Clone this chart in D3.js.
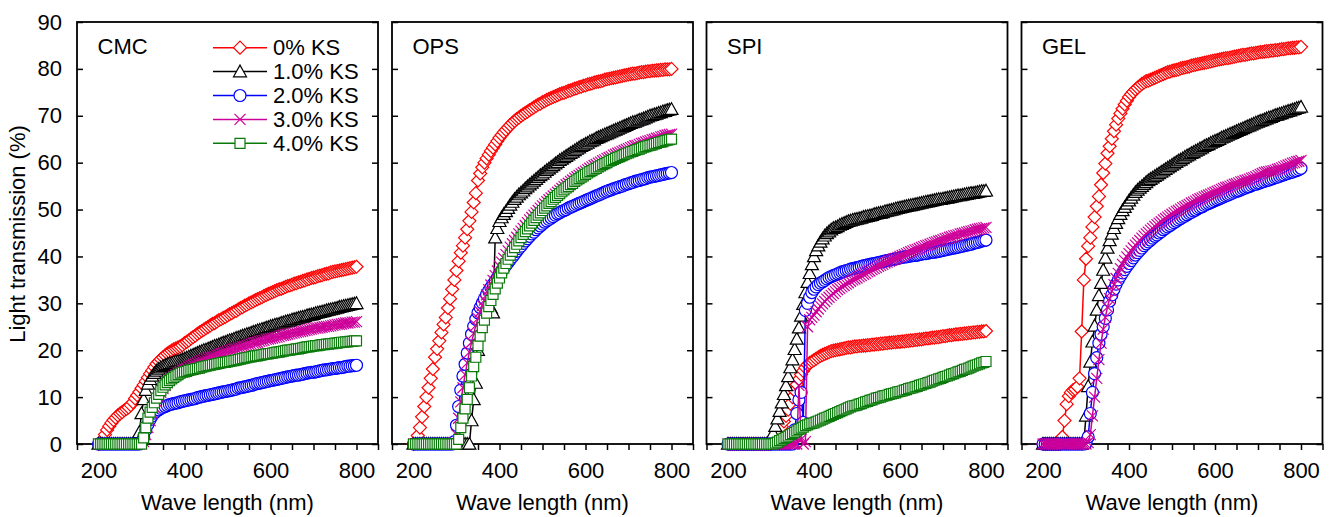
<!DOCTYPE html>
<html>
<head>
<meta charset="utf-8">
<script src="https://cdn.jsdelivr.net/npm/d3@7"></script>
<style>
body { margin: 0; background: #fff; }
text { font-family: "Liberation Sans", Arial, sans-serif; }
</style>
</head>
<body>
<svg id="chart" width="1331" height="517"></svg>
<script>
// wavelength (nm), every 5 nm
var wavelength = [
  200,205,210,215,220,225,230,235,240,245,
  250,255,260,265,270,275,280,285,290,295,
  300,305,310,315,320,325,330,335,340,345,
  350,355,360,365,370,375,380,385,390,395,
  400,405,410,415,420,425,430,435,440,445,
  450,455,460,465,470,475,480,485,490,495,
  500,505,510,515,520,525,530,535,540,545,
  550,555,560,565,570,575,580,585,590,595,
  600,605,610,615,620,625,630,635,640,645,
  650,655,660,665,670,675,680,685,690,695,
  700,705,710,715,720,725,730,735,740,745,
  750,755,760,765,770,775,780,785,790,795,
  800];

// ---- CMC ----
var cmc0 = [
  0,0.2,1,2,3,3.8,4.5,5.1,5.6,6.1,
  6.5,6.8,7.2,7.5,7.8,8.3,8.9,9.7,10.4,11.1,
  11.9,12.6,13.4,14.2,15,15.7,16.4,17.1,17.6,18.1,
  18.5,18.9,19.3,19.6,19.9,20.2,20.4,20.6,20.8,21.1,
  21.5,21.8,22.1,22.5,22.8,23.1,23.5,23.8,24.1,24.4,
  24.7,25,25.3,25.6,25.8,26.1,26.4,26.6,26.9,27.1,
  27.4,27.7,27.9,28.2,28.4,28.7,29,29.2,29.5,29.7,
  30,30.2,30.4,30.7,30.9,31.1,31.3,31.6,31.8,32,
  32.2,32.4,32.6,32.8,33,33.1,33.3,33.5,33.7,33.8,
  34,34.2,34.3,34.5,34.6,34.8,34.9,35.1,35.2,35.4,
  35.5,35.6,35.8,35.9,36,36.2,36.3,36.4,36.6,36.7,
  36.8,36.9,37,37.1,37.2,37.3,37.4,37.5,37.6,37.7,
  37.8];
var cmc1 = [
  0,0,0,0,0,0,0,0,0,0,
  0,0,0,0,0,0,0,0,0.2,2.5,
  6.5,9.5,11.5,12.8,13.8,14.5,15.1,15.6,16,16.3,
  16.6,16.8,17,17.2,17.3,17.5,17.6,17.7,17.8,18,
  18.2,18.4,18.6,18.8,19,19.2,19.4,19.6,19.8,20,
  20.1,20.3,20.5,20.7,20.9,21,21.2,21.4,21.6,21.7,
  21.9,22.1,22.2,22.4,22.6,22.7,22.9,23.1,23.2,23.4,
  23.5,23.7,23.9,24,24.2,24.3,24.5,24.6,24.8,24.9,
  25.1,25.2,25.4,25.5,25.6,25.8,25.9,26.1,26.2,26.3,
  26.5,26.6,26.7,26.9,27,27.1,27.2,27.4,27.5,27.6,
  27.7,27.9,28,28.1,28.2,28.3,28.5,28.6,28.7,28.8,
  28.9,29,29.2,29.3,29.4,29.5,29.6,29.7,29.8,29.9,
  30];
var cmc2 = [
  0,0,0,0,0,0,0,0,0,0,
  0,0,0,0,0,0,0,0,0,0,
  0.5,1.5,3,4.2,5.2,6,6.6,7,7.3,7.6,
  7.8,8,8.2,8.4,8.5,8.6,8.7,8.8,9,9.1,
  9.2,9.3,9.4,9.5,9.6,9.7,9.9,10,10.1,10.2,
  10.3,10.4,10.5,10.6,10.7,10.8,10.9,11,11.1,11.2,
  11.3,11.4,11.5,11.6,11.7,11.9,12,12.1,12.2,12.3,
  12.4,12.5,12.6,12.8,12.9,13,13.1,13.2,13.3,13.4,
  13.5,13.6,13.7,13.8,13.9,14,14.1,14.2,14.3,14.4,
  14.5,14.6,14.7,14.7,14.8,14.9,15,15.1,15.2,15.3,
  15.3,15.4,15.5,15.6,15.7,15.8,15.8,15.9,16,16.1,
  16.1,16.2,16.3,16.3,16.4,16.5,16.6,16.6,16.7,16.7,
  16.8];
var cmc3 = [
  0,0,0,0,0,0,0,0,0,0,
  0,0,0,0,0,0,0,0,0,0,
  0,0.5,2,3.5,5,6.5,7.8,9,10,11,
  11.8,12.5,13.1,13.6,14,14.4,14.8,15.1,15.5,15.8,
  16,16.2,16.5,16.7,16.9,17.1,17.3,17.5,17.7,17.9,
  18.1,18.3,18.5,18.6,18.8,19,19.1,19.3,19.4,19.6,
  19.7,19.9,20,20.2,20.3,20.5,20.6,20.8,20.9,21.1,
  21.2,21.3,21.5,21.6,21.7,21.9,22,22.1,22.3,22.4,
  22.5,22.6,22.7,22.8,22.9,23.1,23.2,23.3,23.4,23.5,
  23.6,23.7,23.8,23.9,24,24.1,24.2,24.3,24.4,24.5,
  24.6,24.7,24.7,24.8,24.9,25,25.1,25.1,25.2,25.3,
  25.4,25.5,25.5,25.6,25.7,25.8,25.8,25.9,26,26,
  26.1];
var cmc4 = [
  0,0,0,0,0,0,0,0,0,0,
  0,0,0,0,0,0,0,0,0,0,
  0,1.3,3.5,5.5,6.8,7.8,8.8,9.8,10.6,11.4,
  12.1,12.6,13.1,13.5,13.9,14.2,14.5,14.8,15.1,15.3,
  15.4,15.5,15.7,15.8,15.9,16,16.1,16.2,16.4,16.5,
  16.6,16.7,16.8,16.9,17,17.1,17.2,17.3,17.4,17.4,
  17.5,17.6,17.7,17.8,17.9,18,18.1,18.2,18.3,18.4,
  18.5,18.6,18.7,18.8,18.8,18.9,19,19.1,19.2,19.2,
  19.3,19.4,19.5,19.6,19.6,19.7,19.8,19.9,20,20,
  20.1,20.2,20.3,20.3,20.4,20.5,20.6,20.7,20.7,20.8,
  20.9,21,21,21.1,21.2,21.2,21.3,21.3,21.4,21.4,
  21.5,21.5,21.6,21.7,21.7,21.8,21.8,21.9,21.9,22,
  22];

// ---- OPS ----
var ops0 = [
  0,0.6,1.8,3.5,5.8,8,10,12,14,16,
  18.5,20.3,22,23.8,25.5,27,29,31,33,35,
  37,39,40.8,42.3,44,45.8,47.6,49.5,51.5,53.5,
  56.2,57.7,59,60,60.9,61.7,62.5,63.2,63.9,64.6,
  65.3,65.9,66.5,67,67.5,68,68.5,68.9,69.3,69.6,
  70,70.3,70.6,70.9,71.2,71.5,71.8,72.1,72.4,72.6,
  72.9,73.1,73.4,73.6,73.8,74,74.2,74.4,74.6,74.8,
  74.9,75.1,75.3,75.4,75.6,75.8,75.9,76.1,76.2,76.4,
  76.5,76.7,76.8,76.9,77.1,77.2,77.3,77.4,77.5,77.7,
  77.8,77.9,78,78.1,78.2,78.3,78.4,78.5,78.6,78.7,
  78.8,78.9,79,79,79.1,79.2,79.3,79.3,79.4,79.5,
  79.5,79.6,79.6,79.7,79.7,79.8,79.8,79.9,79.9,79.9,
  80];
var ops1 = [
  0,0,0,0,0,0,0,0,0,0,
  0,0,0,0,0,0,0,0,0,0,
  0,0,0,0,0,0,0,5,9.5,13,
  20,26,29.5,30.5,30,29.5,29,28,44,46,
  47.5,48.3,49,49.6,50.3,51,51.6,52.2,52.7,53.2,
  53.6,54,54.5,54.9,55.3,55.7,56.1,56.5,56.9,57.3,
  57.6,58,58.4,58.7,59.1,59.4,59.8,60.1,60.5,60.8,
  61.1,61.4,61.7,62,62.3,62.6,62.9,63.2,63.5,63.7,
  64,64.2,64.5,64.7,64.9,65.2,65.4,65.6,65.8,66,
  66.2,66.4,66.6,66.8,67,67.2,67.4,67.6,67.8,68,
  68.2,68.4,68.6,68.7,68.9,69.1,69.2,69.4,69.6,69.8,
  70,70.1,70.3,70.4,70.6,70.7,70.9,71,71.2,71.3,
  71.4];
var ops2 = [
  0,0,0,0,0,0,0,0,0,0,
  0,0,0,0,0,0,0,0,0,0.5,
  4,8,11.5,14.5,17,19.4,21.5,23.4,25.1,26.6,
  28,29.1,30.1,31,31.9,32.7,33.4,34.1,34.8,35.5,
  36.2,36.9,37.5,38.1,38.7,39.3,39.9,40.5,41.1,41.7,
  42.2,42.8,43.3,43.8,44.3,44.8,45.2,45.7,46.1,46.5,
  46.9,47.3,47.6,47.9,48.2,48.5,48.8,49.1,49.3,49.6,
  49.8,50,50.3,50.5,50.7,50.9,51.1,51.3,51.5,51.7,
  51.9,52.1,52.3,52.5,52.7,52.9,53.1,53.3,53.5,53.7,
  53.9,54.1,54.2,54.4,54.6,54.7,54.9,55,55.2,55.4,
  55.5,55.7,55.8,56,56.1,56.2,56.4,56.5,56.6,56.8,
  56.9,57,57.1,57.2,57.3,57.4,57.5,57.6,57.7,57.8,
  57.9];
var ops3 = [
  0,0,0,0,0,0,0,0,0,0,
  0,0,0,0,0,0,0,0,0,0.3,
  2,5.5,9,12,14.8,17.3,19.6,21.7,23.6,25.3,
  26.8,28.2,29.5,30.7,31.8,32.9,33.9,34.9,35.9,36.9,
  37.9,38.8,39.6,40.4,41.2,42,42.7,43.4,44.1,44.8,
  45.4,46,46.6,47.2,47.8,48.3,48.8,49.3,49.8,50.3,
  50.8,51.2,51.7,52.1,52.5,52.9,53.3,53.7,54.1,54.5,
  54.9,55.3,55.6,56,56.3,56.7,57,57.3,57.6,57.9,
  58.2,58.5,58.8,59.1,59.4,59.6,59.9,60.1,60.4,60.6,
  60.9,61.1,61.3,61.6,61.8,62,62.2,62.4,62.6,62.8,
  63,63.2,63.4,63.6,63.7,63.9,64.1,64.2,64.4,64.6,
  64.7,64.9,65,65.2,65.3,65.5,65.6,65.8,65.9,66,
  66.1];
var ops4 = [
  0,0,0,0,0,0,0,0,0,0,
  0,0,0,0,0,0,0,0,0,0,
  0,1,3.5,5.5,7.5,9.5,12,14.5,16.5,18.5,
  21,23,24.8,26.4,27.9,29.3,30.6,31.9,33.1,34.3,
  35.4,36.5,37.5,38.5,39.4,40.3,41.1,41.9,42.6,43.3,
  44,44.7,45.3,45.9,46.5,47.1,47.7,48.3,48.8,49.3,
  49.8,50.3,50.8,51.3,51.7,52.2,52.6,53,53.4,53.8,
  54.2,54.6,54.9,55.3,55.6,56,56.3,56.6,56.9,57.2,
  57.5,57.8,58.1,58.3,58.6,58.8,59.1,59.3,59.6,59.8,
  60,60.3,60.5,60.7,60.9,61.1,61.3,61.5,61.7,61.9,
  62.1,62.3,62.4,62.6,62.8,62.9,63.1,63.3,63.4,63.6,
  63.7,63.8,64,64.1,64.3,64.4,64.5,64.7,64.8,64.9,
  65];

// ---- SPI ----
var spi0 = [
  0,0,0,0,0,0,0,0,0,0,
  0,0,0,0,0,0,0,0,0,0,
  0,0.5,1,1.8,2.7,3.7,4.8,6,7.3,8.6,
  10,11.4,12.7,13.8,14.8,15.6,16.3,16.9,17.3,17.6,
  17.9,18.2,18.5,18.8,19,19.2,19.4,19.6,19.8,19.9,
  20,20.1,20.2,20.3,20.4,20.5,20.6,20.6,20.7,20.8,
  20.8,20.9,20.9,21,21,21.1,21.1,21.2,21.2,21.3,
  21.3,21.4,21.4,21.5,21.5,21.6,21.6,21.7,21.7,21.8,
  21.8,21.9,21.9,22,22,22.1,22.1,22.2,22.2,22.3,
  22.3,22.4,22.5,22.5,22.6,22.7,22.7,22.8,22.8,22.9,
  23,23,23.1,23.2,23.2,23.3,23.4,23.4,23.5,23.5,
  23.6,23.6,23.7,23.7,23.8,23.8,23.9,23.9,24,24,
  24.1];
var spi1 = [
  0,0,0,0,0,0,0,0,0,0,
  0,0,0,0,0,0,0,0,0,0,
  0.5,2.3,3.8,5.4,7,8.8,10.6,12.5,14.4,16.3,
  18,20.2,22.4,24.8,27.3,29.8,32.3,34.5,36.4,38.3,
  40,41.3,42.3,43.1,43.8,44.4,44.9,45.3,45.7,46,
  46.2,46.4,46.7,46.9,47.1,47.3,47.5,47.6,47.8,47.9,
  48,48.1,48.2,48.4,48.5,48.6,48.7,48.8,49,49.1,
  49.2,49.3,49.4,49.6,49.7,49.8,49.9,50,50.2,50.3,
  50.4,50.5,50.6,50.7,50.8,50.9,51,51.1,51.2,51.3,
  51.4,51.5,51.6,51.7,51.8,51.9,52,52.1,52.2,52.2,
  52.3,52.4,52.5,52.6,52.7,52.8,52.9,53,53,53.1,
  53.2,53.3,53.4,53.5,53.5,53.6,53.7,53.8,53.9,53.9,
  54];
var spi2 = [
  0,0,0,0,0,0,0,0,0,0,
  0,0,0,0,0,0,0,0,0,0,
  0,0,0,0,0,0,0,0,0,0,
  0,3,6.5,9.4,11,4.6,28.5,30,31.3,32.3,
  33,33.5,34,34.3,34.6,34.9,35.2,35.5,35.7,35.9,
  36.1,36.3,36.5,36.7,36.8,37,37.1,37.3,37.4,37.5,
  37.6,37.7,37.9,38,38.1,38.2,38.3,38.4,38.5,38.6,
  38.7,38.8,38.9,39,39.1,39.2,39.3,39.4,39.5,39.6,
  39.7,39.8,39.9,39.9,40,40.1,40.2,40.2,40.3,40.4,
  40.5,40.6,40.6,40.7,40.8,40.9,40.9,41,41.1,41.2,
  41.3,41.4,41.5,41.6,41.7,41.8,41.9,42,42.1,42.2,
  42.3,42.4,42.5,42.6,42.8,42.9,43,43.1,43.3,43.4,
  43.5];
var spi3 = [
  0,0,0,0,0,0,0,0,0,0,
  0,0,0,0,0,0,0,0,0,0,
  0,0,0,0,0,0,0,0,0,0,
  0,0,0,12.5,1,0,0.5,25,26.5,27,
  27.5,28.2,28.8,29.4,29.9,30.4,30.9,31.3,31.7,32.1,
  32.5,32.9,33.2,33.5,33.8,34.1,34.4,34.7,35,35.2,
  35.4,35.7,35.9,36.2,36.4,36.7,36.9,37.2,37.4,37.6,
  37.9,38.1,38.3,38.6,38.8,39,39.2,39.4,39.6,39.8,
  40,40.2,40.4,40.6,40.8,41,41.2,41.4,41.5,41.7,
  41.9,42.1,42.3,42.4,42.6,42.8,43,43.1,43.3,43.4,
  43.6,43.8,43.9,44.1,44.2,44.4,44.5,44.6,44.8,44.9,
  45,45.2,45.3,45.4,45.5,45.7,45.8,45.9,46,46.1,
  46.2];
var spi4 = [
  0,0,0,0,0,0,0,0,0,0,
  0,0,0,0,0,0,0,0,0,0,
  0,0,0.2,0.4,0.7,0.9,1.2,1.4,1.7,2,
  2.2,2.5,2.8,3.1,3.4,3.6,3.9,4.1,4.3,4.4,
  4.5,4.7,4.9,5.1,5.3,5.5,5.7,5.9,6.1,6.3,
  6.5,6.7,6.9,7.1,7.3,7.5,7.7,7.9,8.1,8.2,
  8.3,8.5,8.6,8.8,9,9.1,9.3,9.4,9.6,9.8,
  9.9,10,10.2,10.3,10.4,10.6,10.7,10.8,10.9,11.1,
  11.2,11.3,11.5,11.6,11.8,11.9,12,12.2,12.3,12.5,
  12.6,12.8,12.9,13.1,13.2,13.4,13.6,13.7,13.9,14,
  14.2,14.4,14.5,14.7,14.9,15,15.2,15.4,15.5,15.7,
  15.9,16,16.2,16.4,16.6,16.8,16.9,17.1,17.3,17.4,
  17.6];

// ---- GEL ----
var gel0 = [
  0,0,0,0,0,0,0,0,0,1.5,
  5,8.5,10.2,11,11.5,11.7,12.2,14,24,35,
  39.5,42.2,44,46.3,48.4,50.7,52.8,55.3,57.8,59.8,
  62,63.5,65.1,66.7,68.1,69.4,70.5,71.5,72.4,73.2,
  74,74.6,75.1,75.6,76,76.4,76.8,77.1,77.4,77.5,
  77.7,77.9,78.1,78.3,78.5,78.7,78.9,79.1,79.3,79.4,
  79.6,79.7,79.8,79.9,80.1,80.2,80.3,80.4,80.5,80.7,
  80.8,80.9,81,81.1,81.2,81.3,81.4,81.5,81.6,81.7,
  81.8,81.9,82,82.1,82.2,82.3,82.3,82.4,82.5,82.6,
  82.7,82.8,82.9,83,83,83.1,83.2,83.3,83.3,83.4,
  83.5,83.6,83.6,83.7,83.8,83.8,83.9,83.9,84,84,
  84.1,84.2,84.2,84.3,84.4,84.4,84.5,84.5,84.6,84.6,
  84.7];
var gel1 = [
  0,0,0,0,0,0,0,0,0,0,
  0,0,0,0,0,0,0,0,0,0.5,
  6,12.3,17.5,21.8,25.2,28.6,31.7,34.3,37.1,39.7,
  41.8,43.4,44.8,46,47.1,48.1,49,49.8,50.5,51.2,
  51.9,52.5,53.1,53.7,54.2,54.6,55,55.4,55.8,56.2,
  56.5,56.8,57.1,57.4,57.7,58,58.3,58.6,58.9,59.2,
  59.5,59.8,60.1,60.4,60.6,60.9,61.2,61.5,61.7,62,
  62.2,62.5,62.7,63,63.2,63.5,63.7,63.9,64.2,64.4,
  64.6,64.8,65,65.3,65.5,65.7,65.9,66.1,66.3,66.5,
  66.7,66.9,67.1,67.3,67.5,67.7,67.9,68.1,68.3,68.5,
  68.7,68.9,69,69.2,69.4,69.6,69.7,69.9,70.1,70.2,
  70.4,70.5,70.7,70.8,71,71.1,71.3,71.4,71.6,71.7,
  71.9];
var gel2 = [
  0,0,0,0,0,0,0,0,0,0,
  0,0,0,0,0,0,0,0,0,0,
  0.2,1.5,6.5,11,15,18.4,21.5,23.4,25,26.8,
  28.6,30.5,31.8,33,34.1,35,35.8,36.5,37.2,37.9,
  38.5,39.1,39.7,40.3,40.8,41.3,41.8,42.3,42.7,43.1,
  43.5,43.9,44.3,44.6,45,45.3,45.7,46,46.3,46.6,
  46.9,47.2,47.5,47.8,48.1,48.4,48.6,48.9,49.2,49.4,
  49.7,49.9,50.2,50.4,50.6,50.9,51.1,51.3,51.5,51.7,
  51.9,52.1,52.3,52.5,52.7,52.9,53.1,53.3,53.5,53.7,
  53.9,54,54.2,54.4,54.6,54.8,54.9,55.1,55.3,55.4,
  55.6,55.7,55.9,56,56.2,56.3,56.5,56.6,56.8,56.9,
  57.1,57.3,57.4,57.6,57.7,57.9,58,58.2,58.3,58.5,
  58.8];
var gel3 = [
  0,0,0,0,0,0,0,0,0,0,
  0,0,0,0,0,0,0,0,0,0,
  0,0.3,2,6,10,14,18,21.5,24.5,27,
  29.2,31,32.6,34,35.3,36.4,37.4,38.3,39.1,39.9,
  40.6,41.2,41.8,42.4,42.9,43.4,43.9,44.4,44.8,45.2,
  45.6,46,46.4,46.8,47.1,47.4,47.8,48.1,48.4,48.7,
  49,49.3,49.6,49.8,50.1,50.4,50.6,50.9,51.1,51.4,
  51.6,51.8,52.1,52.3,52.5,52.7,52.9,53.1,53.3,53.5,
  53.7,53.9,54.1,54.3,54.5,54.7,54.8,55,55.2,55.4,
  55.5,55.7,55.9,56,56.2,56.3,56.5,56.7,56.8,57,
  57.3,57.5,57.7,57.9,58,58.1,58.2,58.3,58.4,58.6,
  58.7,58.9,59.1,59.3,59.5,59.7,59.9,60,60.2,60.3,
  60.5];

var panelNames = ["CMC", "OPS", "SPI", "GEL"];
var panelSeries = [
  [cmc0, cmc1, cmc2, cmc3, cmc4],
  [ops0, ops1, ops2, ops3, ops4],
  [spi0, spi1, spi2, spi3, spi4],
  [gel0, gel1, gel2, gel3]
];
var seriesLabels = ["0% KS", "1.0% KS", "2.0% KS", "3.0% KS", "4.0% KS"];
var seriesColors = ["#ff0000", "#000000", "#0000ff", "#cc0099", "#0a7a0a"];

var xTicks = [150,200,250,300,350,400,450,500,550,600,650,700,750,800,850];
var xTickLabels = [200, 400, 600, 800];
var yTicks = [0,10,20,30,40,50,60,70,80,90];

var svg = d3.select("#chart");

var panelX = [77, 392, 706.5, 1021.5];
var panelW = 301, plotTop = 22, plotBottom = 444;
var font = "'Liberation Sans', Arial, sans-serif";

var x = d3.scaleLinear().domain([150, 850]).range([0, panelW]);
var y = d3.scaleLinear().domain([0, 90]).range([plotBottom, plotTop]);

// open marker shapes (size = (2r)^2)
var symDiamond = { draw: function(c, s){ var r = Math.sqrt(s)/2; c.moveTo(0,-r); c.lineTo(r,0); c.lineTo(0,r); c.lineTo(-r,0); c.closePath(); } };
var symTriangle = { draw: function(c, s){ var r = Math.sqrt(s)/2; c.moveTo(0,-r); c.lineTo(r,r*0.8); c.lineTo(-r,r*0.8); c.closePath(); } };
var symCircle = { draw: function(c, s){ var r = Math.sqrt(s)/2; c.moveTo(r,0); c.arc(0,0,r,0,2*Math.PI); } };
var symCross = { draw: function(c, s){ var r = Math.sqrt(s)/2; c.moveTo(-r,-r); c.lineTo(r,r); c.moveTo(-r,r); c.lineTo(r,-r); } };
var symSquare = { draw: function(c, s){ var r = Math.sqrt(s)/2; c.rect(-r,-r,2*r,2*r); } };
var seriesSymbols = [
  d3.symbol(symDiamond, 169),
  d3.symbol(symTriangle, 169),
  d3.symbol(symCircle, 144),
  d3.symbol(symCross, 121),
  d3.symbol(symSquare, 100)
];

var line = d3.line()
  .x(function(d, i){ return x(wavelength[i]); })
  .y(function(d){ return y(d); });

panelSeries.forEach(function(series, p){
  var g = svg.append("g").attr("transform", "translate(" + panelX[p] + ",0)");

  // x axis, ticks out
  var xa = g.append("g")
    .attr("transform", "translate(0," + plotBottom + ")")
    .call(d3.axisBottom(x).tickValues(xTicks).tickSize(6).tickPadding(12)
      .tickFormat(function(d){ return xTickLabels.indexOf(d) >= 0 ? d : ""; }));
  xa.select(".domain").remove();
  xa.selectAll("line").attr("stroke-width", 1.5);
  xa.attr("font-size", 22).attr("font-family", font);

  // y axis left (ticks in), labels only on first panel
  var ya = g.append("g")
    .call(d3.axisLeft(y).tickValues(yTicks).tickSizeInner(-6).tickSizeOuter(0).tickPadding(15)
      .tickFormat(p === 0 ? d3.format("d") : function(){ return ""; }));
  ya.select(".domain").remove();
  ya.selectAll("line").attr("stroke-width", 1.5);
  ya.attr("font-size", 22).attr("font-family", font);

  var yr = g.append("g")
    .attr("transform", "translate(" + panelW + ",0)")
    .call(d3.axisLeft(y).tickValues(yTicks).tickSize(6).tickFormat(""));
  yr.select(".domain").remove();
  yr.selectAll("line").attr("stroke-width", 1.5);

  g.append("rect")
    .attr("x", 0).attr("y", plotTop)
    .attr("width", panelW).attr("height", plotBottom - plotTop)
    .attr("fill", "none").attr("stroke", "#000").attr("stroke-width", 1.8);

  g.append("text")
    .attr("x", 20.5).attr("y", 54)
    .attr("font-size", 22).attr("font-family", font)
    .text(panelNames[p]);

  g.append("text")
    .attr("x", panelW / 2).attr("y", 510)
    .attr("text-anchor", "middle")
    .attr("font-size", 22).attr("font-family", font)
    .text("Wave length (nm)");

  series.forEach(function(vals, s){
    var sg = g.append("g");
    sg.append("path")
      .attr("d", line(vals))
      .attr("fill", "none")
      .attr("stroke", seriesColors[s])
      .attr("stroke-width", 1.5);
    sg.selectAll("path.pt")
      .data(vals)
      .enter().append("path")
      .attr("class", "pt")
      .attr("transform", function(d, i){ return "translate(" + x(wavelength[i]) + "," + y(d) + ")"; })
      .attr("d", seriesSymbols[s])
      .attr("fill", "#fff")
      .attr("stroke", seriesColors[s])
      .attr("stroke-width", 1.2);
  });
});

// legend in first panel
var legend = svg.append("g").attr("transform", "translate(213,47.7)");
seriesLabels.forEach(function(label, s){
  var row = legend.append("g").attr("transform", "translate(0," + (s * 23.9) + ")");
  row.append("line")
    .attr("x1", 0).attr("x2", 54)
    .attr("stroke", seriesColors[s]).attr("stroke-width", 1.5);
  row.append("path")
    .attr("transform", "translate(27,0)")
    .attr("d", seriesSymbols[s])
    .attr("fill", "#fff")
    .attr("stroke", seriesColors[s])
    .attr("stroke-width", 1.2);
  row.append("text")
    .attr("x", 60).attr("y", 7.5)
    .attr("font-size", 22).attr("font-family", font)
    .text(label);
});

svg.append("text")
  .attr("transform", "translate(25,234) rotate(-90)")
  .attr("text-anchor", "middle")
  .attr("font-size", 22).attr("font-family", font)
  .text("Light transmission (%)");
</script>
</body>
</html>
